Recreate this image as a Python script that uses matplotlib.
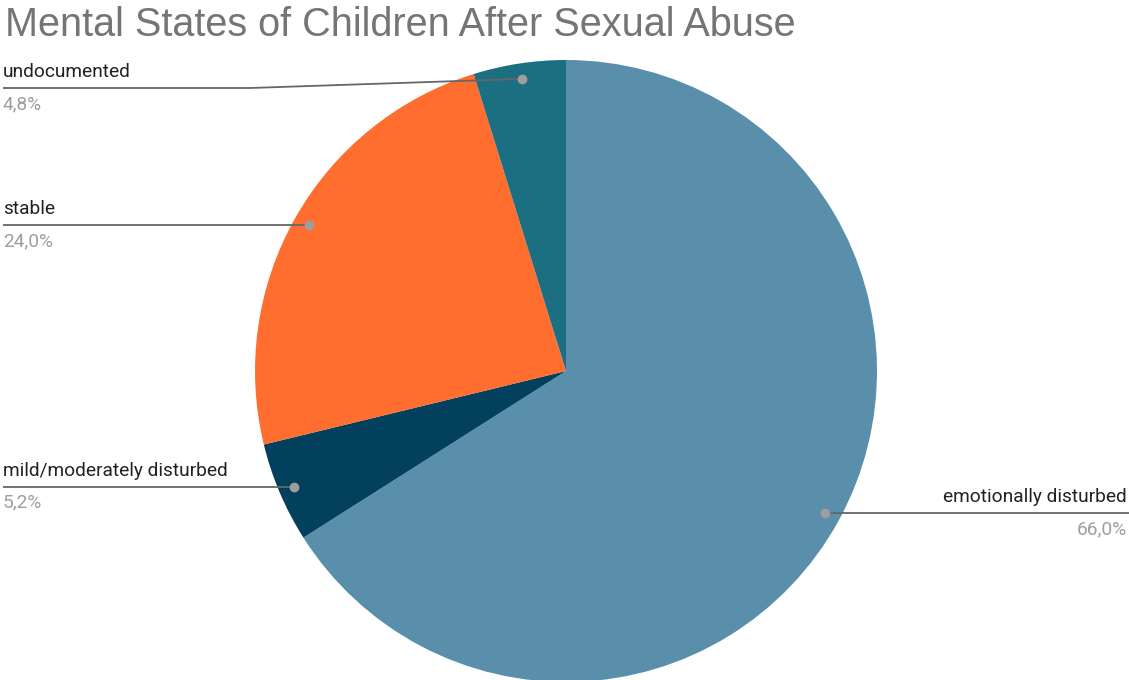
import numpy as np
import matplotlib.pyplot as plt

labels = ['emotionally disturbed', 'mild/moderately disturbed', 'stable', 'undocumented']
shares = [66.0, 5.2, 24.0, 4.8]
colors = ['#5a8fab', '#02405d', '#ff6d2f', '#1b6f81']
title = 'Mental States of Children After Sexual Abuse'

W, H = 1129, 680
fig = plt.figure(figsize=(W / 100, H / 100), dpi=100)
ax = fig.add_axes([0, 0, 1, 1])

cx, cy, r = 566, H - 371, 311
wedges, _ = ax.pie(shares, colors=colors, startangle=90, counterclock=False,
                   center=(cx, cy), radius=r, frame=True,
                   wedgeprops=dict(linewidth=0))
ax.set_xlim(0, W)
ax.set_ylim(0, H)
ax.set_aspect('equal')
ax.axis('off')

fig.text(5 / W, 1 - 6 / H, title, fontsize=28.5, color='#757575',
         family='Liberation Sans', ha='left', va='top')

# leader lines and labels
top_limit = H - 88
for w, name, v in zip(wedges, labels, shares):
    mid = np.deg2rad((w.theta1 + w.theta2) / 2)
    dx = cx + 0.95 * r * np.cos(mid)
    dy = cy + 0.95 * r * np.sin(mid)
    ly = min(dy, top_limit)
    left = np.cos(mid) < 0
    x_end = 3 if left else W
    if ly != dy:
        xs, ys = [dx, 250, x_end], [dy, ly, ly]
    else:
        xs, ys = [dx, x_end], [dy, ly]
    ax.plot(xs, ys, color='#666666', lw=1.3, solid_capstyle='butt', zorder=3)
    ax.plot(dx, dy, 'o', color='#9e9e9e', ms=6, zorder=4)
    tx = 3 if left else W - 2
    ha = 'left' if left else 'right'
    ax.text(tx, ly + 7, name, ha=ha, va='bottom', fontsize=13.8,
            color='#222222', family='Roboto')
    pct = f'{v:.1f}'.replace('.', ',') + '%'
    ax.text(tx, ly - 7, pct, ha=ha, va='top', fontsize=13.8,
            color='#9e9e9e', family='Roboto')

fig.savefig('out.png', dpi=100, facecolor='white')
